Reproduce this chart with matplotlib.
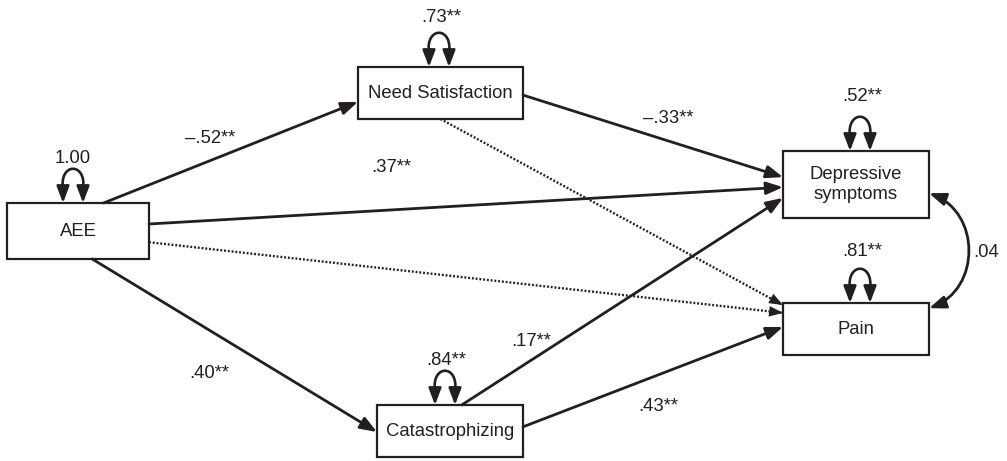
import matplotlib
matplotlib.use("Agg")
import matplotlib.pyplot as plt
from matplotlib.patches import Rectangle, FancyArrowPatch
from matplotlib.path import Path

plt.rcParams['font.family'] = ['Liberation Sans', 'DejaVu Sans']

INK = '#231f20'
FS = 13.3

# model variables and their (residual) variances
nodes = ["AEE", "Need Satisfaction", "Catastrophizing", "Depressive\nsymptoms", "Pain"]
variances = [1.00, .73, .84, .52, .81]
variance_sig = [False, True, True, True, True]

# directed paths, None = non-significant (dotted, unlabeled)
path_from = ["AEE", "AEE", "AEE", "AEE",
             "Need Satisfaction", "Need Satisfaction",
             "Catastrophizing", "Catastrophizing"]
path_to = ["Need Satisfaction", "Depressive\nsymptoms", "Pain", "Catastrophizing",
           "Depressive\nsymptoms", "Pain",
           "Depressive\nsymptoms", "Pain"]
path_coef = [-.52, .37, None, .40, -.33, None, .17, .43]

# residual covariance between the two outcomes
cov_pair = ("Depressive\nsymptoms", "Pain")
cov_value = .04

# --- layout (pixel space, y down) ---
boxes = {
    "AEE": (7, 203, 149, 259),
    "Need Satisfaction": (358, 67, 523, 119),
    "Catastrophizing": (377, 405, 523, 457),
    "Depressive\nsymptoms": (783, 151, 929, 218),
    "Pain": (783, 303, 929, 355),
}
loop_x = [73, 439, 445, 860, 860]
var_label_pos = [(73, 163), (441, 22), (446, 365), (862, 101), (862, 256)]

# (side, fraction) anchors for start / end of each path
path_start = [("top", .68), ("right", .375), ("right", .70), ("bottom", .60),
              ("right", .54), ("bottom", .50), ("top", .58), ("right", .42)]
path_end = [("left", .67), ("left", .54), ("left", .19), ("left", .52),
            ("left", .39), ("left", .04), ("left", .70), ("left", .46)]
path_label_pos = [(210, 143), (391, 172), None, (209, 378),
                  (668, 123), None, (531, 346), (658, 411)]
cov_label_pos = (986, 257)


def anchor(name, side, frac):
    x0, y0, x1, y1 = boxes[name]
    if side == "top":
        return (x0 + frac * (x1 - x0), y0)
    if side == "bottom":
        return (x0 + frac * (x1 - x0), y1)
    if side == "left":
        return (x0, y0 + frac * (y1 - y0))
    return (x1, y0 + frac * (y1 - y0))


def fmt(v, stars):
    s = f"{abs(v):.2f}"
    if abs(v) < 1:
        s = s.lstrip("0")
    if v < 0:
        s = "\u2013" + s
    return s + ("**" if stars else "")


HEAD = "-|>,head_length=1.0,head_width=0.38"
HEAD2 = "<|-|>,head_length=1.0,head_width=0.38"

fig = plt.figure(figsize=(10.07, 4.61), dpi=100)
ax = fig.add_axes([0, 0, 1, 1])
ax.set_xlim(0, 1007)
ax.set_ylim(461, 0)
ax.axis("off")

# boxes and names
for name in nodes:
    x0, y0, x1, y1 = boxes[name]
    ax.add_patch(Rectangle((x0, y0), x1 - x0, y1 - y0, fill=False,
                           lw=1.6, ec=INK, zorder=3))
    ax.text((x0 + x1) / 2, (y0 + y1) / 2, name, ha="center", va="center",
            fontsize=FS, color=INK, linespacing=1.3, zorder=4)

# variance self-loops
for name, cx, v, sig, lp in zip(nodes, loop_x, variances, variance_sig, var_label_pos):
    top = boxes[name][1]
    d = 10
    verts = [(cx - d, top), (cx - d, top - 14),
             (cx - d - 4, top - 41), (cx + d + 4, top - 41), (cx + d, top - 14),
             (cx + d, top)]
    codes = [Path.MOVETO, Path.LINETO, Path.CURVE4, Path.CURVE4, Path.CURVE4, Path.LINETO]
    ax.add_patch(FancyArrowPatch(path=Path(verts, codes), arrowstyle=HEAD2,
                                 mutation_scale=10, lw=1.9, color=INK, zorder=5))
    ax.text(lp[0], lp[1], fmt(v, sig), ha="center", va="baseline",
            fontsize=FS, color=INK)

# structural paths
for src, dst, c, sa, ea, lp in zip(path_from, path_to, path_coef,
                                   path_start, path_end, path_label_pos):
    p0 = anchor(src, *sa)
    p1 = anchor(dst, *ea)
    if c is None:
        # dotted shaft, solid head drawn separately
        ax.plot([p0[0], p1[0]], [p0[1], p1[1]], color=INK, lw=1.7,
                linestyle=(0, (0.8, 0.8)), solid_capstyle="butt", zorder=2)
        ax.add_patch(FancyArrowPatch(p0, p1, arrowstyle=HEAD, mutation_scale=10,
                                     shrinkA=0, shrinkB=0, lw=0.01,
                                     color=INK, zorder=2))
    else:
        ax.add_patch(FancyArrowPatch(p0, p1, arrowstyle=HEAD, mutation_scale=10,
                                     shrinkA=0, shrinkB=0, lw=2.0,
                                     color=INK, zorder=2))
        ax.text(lp[0], lp[1], fmt(c, True), ha="center", va="baseline",
                fontsize=FS, color=INK)

# curved covariance arrow
pa = anchor(cov_pair[0], "right", .63)
pb = anchor(cov_pair[1], "right", .10)
verts = [pa, (pa[0] + 52, pa[1] + 19), (pb[0] + 52, pb[1] - 19), pb]
codes = [Path.MOVETO, Path.CURVE4, Path.CURVE4, Path.CURVE4]
ax.add_patch(FancyArrowPatch(path=Path(verts, codes), arrowstyle=HEAD2,
                             mutation_scale=10, lw=2.0, color=INK, zorder=2))
ax.text(cov_label_pos[0], cov_label_pos[1], fmt(cov_value, False),
        ha="center", va="baseline", fontsize=FS, color=INK)

fig.savefig("out.png", dpi=100, facecolor="white")
